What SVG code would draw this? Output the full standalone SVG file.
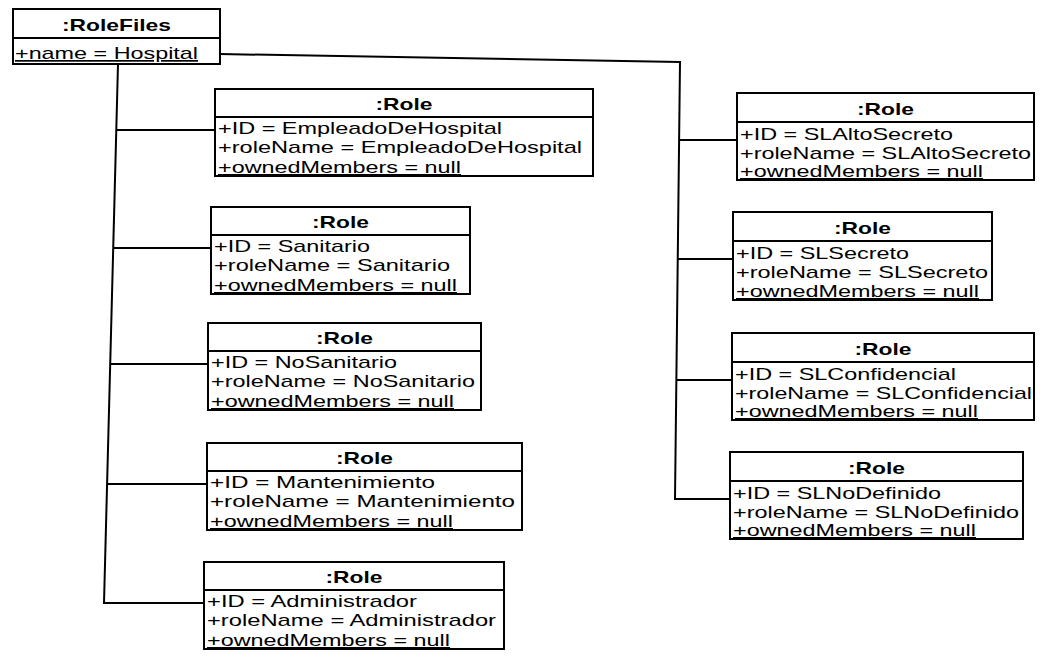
<svg xmlns="http://www.w3.org/2000/svg" width="1045" height="658" viewBox="0 0 1045 658">
<style>
.box{fill:#fff;stroke:#000;stroke-width:2}
.t{font-family:"Liberation Sans",Arial,sans-serif;font-size:17px;fill:#000}
.title{font-weight:bold;text-anchor:middle}
.u{text-decoration:underline}
.conn{fill:none;stroke:#000;stroke-width:2}
</style>
<rect width="1045" height="658" fill="#fff"/>
<g id="connectors">
<path class="conn" d="M118,64 L104,603 L204,603"/>
<path class="conn" d="M116,130 H215"/>
<path class="conn" d="M113,248 H211"/>
<path class="conn" d="M110,364 H208"/>
<path class="conn" d="M107,484 H207"/>
<path class="conn" d="M220,54 L680,62 L675,499 L730,499"/>
<path class="conn" d="M679,140 H737"/>
<path class="conn" d="M678,259 H733"/>
<path class="conn" d="M677,380 H732"/>
</g>
<g id="rolefiles">
<rect class="box" x="13" y="9" width="207" height="55"/>
<line class="box" x1="13" y1="38" x2="220" y2="38"/>
<text class="t title" x="116.5" y="31" textLength="109" lengthAdjust="spacingAndGlyphs">:RoleFiles</text>
<text class="t u" x="15" y="59" textLength="183" lengthAdjust="spacingAndGlyphs">+name = Hospital</text>
</g>
<g id="role-empleado">
<rect class="box" x="215" y="89" width="378" height="87"/>
<line class="box" x1="215" y1="117" x2="593" y2="117"/>
<text class="t title" x="404" y="110" textLength="57" lengthAdjust="spacingAndGlyphs">:Role</text>
<text class="t" x="218" y="134" textLength="284" lengthAdjust="spacingAndGlyphs">+ID = EmpleadoDeHospital</text>
<text class="t" x="218" y="153" textLength="364" lengthAdjust="spacingAndGlyphs">+roleName = EmpleadoDeHospital</text>
<text class="t u" x="218" y="173" textLength="243" lengthAdjust="spacingAndGlyphs">+ownedMembers = null</text>
</g>
<g id="role-sanitario">
<rect class="box" x="211" y="207" width="259" height="87"/>
<line class="box" x1="211" y1="235" x2="470" y2="235"/>
<text class="t title" x="340.5" y="228" textLength="57" lengthAdjust="spacingAndGlyphs">:Role</text>
<text class="t" x="214" y="252" textLength="156" lengthAdjust="spacingAndGlyphs">+ID = Sanitario</text>
<text class="t" x="214" y="271" textLength="236" lengthAdjust="spacingAndGlyphs">+roleName = Sanitario</text>
<text class="t u" x="214" y="291" textLength="243" lengthAdjust="spacingAndGlyphs">+ownedMembers = null</text>
</g>
<g id="role-nosanitario">
<rect class="box" x="208" y="323" width="273" height="87"/>
<line class="box" x1="208" y1="351" x2="481" y2="351"/>
<text class="t title" x="344.5" y="344" textLength="57" lengthAdjust="spacingAndGlyphs">:Role</text>
<text class="t" x="211" y="368" textLength="186" lengthAdjust="spacingAndGlyphs">+ID = NoSanitario</text>
<text class="t" x="211" y="387" textLength="264" lengthAdjust="spacingAndGlyphs">+roleName = NoSanitario</text>
<text class="t u" x="211" y="407" textLength="243" lengthAdjust="spacingAndGlyphs">+ownedMembers = null</text>
</g>
<g id="role-mantenimiento">
<rect class="box" x="207" y="443" width="315" height="87"/>
<line class="box" x1="207" y1="471" x2="522" y2="471"/>
<text class="t title" x="364.5" y="464" textLength="57" lengthAdjust="spacingAndGlyphs">:Role</text>
<text class="t" x="210" y="488" textLength="225" lengthAdjust="spacingAndGlyphs">+ID = Mantenimiento</text>
<text class="t" x="210" y="507" textLength="305" lengthAdjust="spacingAndGlyphs">+roleName = Mantenimiento</text>
<text class="t u" x="210" y="527" textLength="243" lengthAdjust="spacingAndGlyphs">+ownedMembers = null</text>
</g>
<g id="role-administrador">
<rect class="box" x="204" y="562" width="300" height="87"/>
<line class="box" x1="204" y1="590" x2="504" y2="590"/>
<text class="t title" x="354" y="583" textLength="57" lengthAdjust="spacingAndGlyphs">:Role</text>
<text class="t" x="207" y="607" textLength="210" lengthAdjust="spacingAndGlyphs">+ID = Administrador</text>
<text class="t" x="207" y="626" textLength="289" lengthAdjust="spacingAndGlyphs">+roleName = Administrador</text>
<text class="t u" x="207" y="646" textLength="243" lengthAdjust="spacingAndGlyphs">+ownedMembers = null</text>
</g>
<g id="role-slaltosecreto">
<rect class="box" x="737" y="93" width="297" height="87"/>
<line class="box" x1="737" y1="122" x2="1034" y2="122"/>
<text class="t title" x="885.5" y="115" textLength="57" lengthAdjust="spacingAndGlyphs">:Role</text>
<text class="t" x="740" y="140" textLength="213" lengthAdjust="spacingAndGlyphs">+ID = SLAltoSecreto</text>
<text class="t" x="740" y="159" textLength="291" lengthAdjust="spacingAndGlyphs">+roleName = SLAltoSecreto</text>
<text class="t u" x="740" y="177" textLength="243" lengthAdjust="spacingAndGlyphs">+ownedMembers = null</text>
</g>
<g id="role-slsecreto">
<rect class="box" x="733" y="212" width="259" height="88"/>
<line class="box" x1="733" y1="241" x2="992" y2="241"/>
<text class="t title" x="862.5" y="234" textLength="57" lengthAdjust="spacingAndGlyphs">:Role</text>
<text class="t" x="736" y="259" textLength="173" lengthAdjust="spacingAndGlyphs">+ID = SLSecreto</text>
<text class="t" x="736" y="278" textLength="252" lengthAdjust="spacingAndGlyphs">+roleName = SLSecreto</text>
<text class="t u" x="736" y="297" textLength="243" lengthAdjust="spacingAndGlyphs">+ownedMembers = null</text>
</g>
<g id="role-slconfidencial">
<rect class="box" x="732" y="333" width="302" height="87"/>
<line class="box" x1="732" y1="362" x2="1034" y2="362"/>
<text class="t title" x="883" y="355" textLength="57" lengthAdjust="spacingAndGlyphs">:Role</text>
<text class="t" x="735" y="380" textLength="221" lengthAdjust="spacingAndGlyphs">+ID = SLConfidencial</text>
<text class="t" x="735" y="399" textLength="297" lengthAdjust="spacingAndGlyphs">+roleName = SLConfidencial</text>
<text class="t u" x="735" y="417" textLength="243" lengthAdjust="spacingAndGlyphs">+ownedMembers = null</text>
</g>
<g id="role-slnodefinido">
<rect class="box" x="730" y="452" width="293" height="87"/>
<line class="box" x1="730" y1="481" x2="1023" y2="481"/>
<text class="t title" x="876.5" y="474" textLength="57" lengthAdjust="spacingAndGlyphs">:Role</text>
<text class="t" x="733" y="499" textLength="208" lengthAdjust="spacingAndGlyphs">+ID = SLNoDefinido</text>
<text class="t" x="733" y="518" textLength="286" lengthAdjust="spacingAndGlyphs">+roleName = SLNoDefinido</text>
<text class="t u" x="733" y="536" textLength="243" lengthAdjust="spacingAndGlyphs">+ownedMembers = null</text>
</g>
</svg>
